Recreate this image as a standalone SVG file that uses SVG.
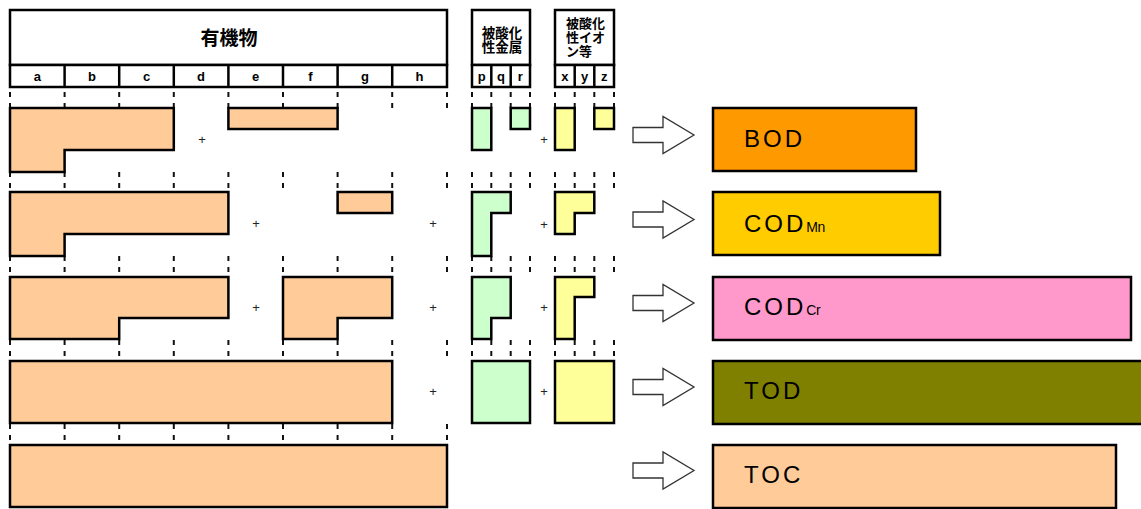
<svg xmlns="http://www.w3.org/2000/svg" width="1141" height="509" viewBox="0 0 1141 509">
<style>
.hdr{fill:#fff;stroke:#000;stroke-width:2.5}
.org{fill:#FFCC99;stroke:#000;stroke-width:2.5;stroke-linejoin:miter}
.met{fill:#CCFFCC;stroke:#000;stroke-width:2.5}
.ion{fill:#FFFF99;stroke:#000;stroke-width:2.5}
.tick{stroke:#111;stroke-width:2;stroke-dasharray:5 6}
.jp{font-family:"Liberation Sans","Noto Sans CJK JP",sans-serif;font-weight:bold;fill:#000}
.col{font-family:"Liberation Sans",sans-serif;font-weight:bold;font-size:13px;text-anchor:middle;fill:#000}
.plus{font-family:"Liberation Sans",sans-serif;font-size:13px;text-anchor:middle;fill:#222}
.arr{fill:#fff;stroke:#333;stroke-width:1.3}
.res{stroke:#000;stroke-width:2.5}
.lbl{font-family:"Liberation Sans",sans-serif;font-size:24px;letter-spacing:3px;fill:#000}
.sub{font-size:14px;letter-spacing:-0.5px}
</style>

<g id="header-organic">
  <rect class="hdr" x="10" y="10" width="437" height="55"/>
  <rect class="hdr" x="10" y="65" width="437" height="22"/>
  <g stroke="#000" stroke-width="2.5">
    <line x1="64.6" y1="65" x2="64.6" y2="87"/>
    <line x1="119.2" y1="65" x2="119.2" y2="87"/>
    <line x1="173.8" y1="65" x2="173.8" y2="87"/>
    <line x1="228.4" y1="65" x2="228.4" y2="87"/>
    <line x1="283" y1="65" x2="283" y2="87"/>
    <line x1="337.6" y1="65" x2="337.6" y2="87"/>
    <line x1="392.2" y1="65" x2="392.2" y2="87"/>
  </g>
  <text class="jp" x="229" y="45" font-size="19" text-anchor="middle">有機物</text>
  <text class="col" x="37.3" y="81">a</text>
  <text class="col" x="91.9" y="81">b</text>
  <text class="col" x="146.5" y="81">c</text>
  <text class="col" x="201.1" y="81">d</text>
  <text class="col" x="255.7" y="81">e</text>
  <text class="col" x="310.3" y="81">f</text>
  <text class="col" x="364.9" y="81">g</text>
  <text class="col" x="419.5" y="81">h</text>
</g>

<g id="header-metal">
  <rect class="hdr" x="472" y="10" width="58" height="55"/>
  <rect class="hdr" x="472" y="65" width="58" height="22"/>
  <g stroke="#000" stroke-width="2.5">
    <line x1="491.3" y1="65" x2="491.3" y2="87"/>
    <line x1="510.7" y1="65" x2="510.7" y2="87"/>
  </g>
  <text class="jp" x="502" y="38" font-size="13.5" text-anchor="middle">被酸化</text>
  <text class="jp" x="502" y="52" font-size="13.5" text-anchor="middle">性金属</text>
  <text class="col" x="481.7" y="81">p</text>
  <text class="col" x="501" y="81">q</text>
  <text class="col" x="520.3" y="81">r</text>
</g>

<g id="header-ion">
  <rect class="hdr" x="555" y="10" width="59" height="55"/>
  <rect class="hdr" x="555" y="65" width="59" height="22"/>
  <g stroke="#000" stroke-width="2.5">
    <line x1="574.7" y1="65" x2="574.7" y2="87"/>
    <line x1="594.3" y1="65" x2="594.3" y2="87"/>
  </g>
  <text class="jp" x="566" y="28" font-size="13">被酸化</text>
  <text class="jp" x="566" y="42" font-size="13">性イオ</text>
  <text class="jp" x="566" y="56" font-size="13">ン等</text>
  <text class="col" x="564.8" y="81">x</text>
  <text class="col" x="584.5" y="81">y</text>
  <text class="col" x="604.2" y="81">z</text>
</g>

<g id="ticks">
  <g id="gap1">
    <path class="tick" d="M10 92V108M64.6 92V108M119.2 92V108M173.8 92V108M228.4 92V108M283 92V108M337.6 92V108M392.2 92V108M447 92V108M472 92V108M491.3 92V108M510.7 92V108M530 92V108M555 92V108M574.7 92V108M594.3 92V108M614 92V108"/>
  </g>
  <g id="gap2">
    <path class="tick" d="M10 172V192M64.6 172V192M119.2 172V192M173.8 172V192M228.4 172V192M283 172V192M337.6 172V192M392.2 172V192M447 172V192M472 172V192M491.3 172V192M510.7 172V192M530 172V192M555 172V192M574.7 172V192M594.3 172V192M614 172V192"/>
  </g>
  <g id="gap3">
    <path class="tick" d="M10 256V277M64.6 256V277M119.2 256V277M173.8 256V277M228.4 256V277M283 256V277M337.6 256V277M392.2 256V277M447 256V277M472 256V277M491.3 256V277M510.7 256V277M530 256V277M555 256V277M574.7 256V277M594.3 256V277M614 256V277"/>
  </g>
  <g id="gap4">
    <path class="tick" d="M10 340V361M64.6 340V361M119.2 340V361M173.8 340V361M228.4 340V361M283 340V361M337.6 340V361M392.2 340V361M447 340V361M472 340V361M491.3 340V361M510.7 340V361M530 340V361M555 340V361M574.7 340V361M594.3 340V361M614 340V361"/>
  </g>
  <g id="gap5">
    <path class="tick" d="M10 424V445M64.6 424V445M119.2 424V445M173.8 424V445M228.4 424V445M283 424V445M337.6 424V445M392.2 424V445M447 424V445"/>
  </g>
</g>

<g id="row-bod">
  <path class="org" d="M10 108H173.8V150H64.6V172H10Z"/>
  <rect class="org" x="228.4" y="108" width="109.2" height="21"/>
  <text class="plus" x="202" y="144">+</text>
  <rect class="met" x="472" y="108" width="19.3" height="42"/>
  <rect class="met" x="510.7" y="108" width="19.3" height="21"/>
  <text class="plus" x="544" y="144">+</text>
  <rect class="ion" x="555" y="108" width="19.7" height="42"/>
  <rect class="ion" x="594.3" y="108" width="19.7" height="21"/>
</g>

<g id="row-codmn">
  <path class="org" d="M10 192H228.4V234H64.6V256H10Z"/>
  <rect class="org" x="337.6" y="192" width="54.6" height="21"/>
  <text class="plus" x="256" y="228">+</text>
  <text class="plus" x="433" y="228">+</text>
  <path class="met" d="M472 192H510.7V213H491.3V256H472Z"/>
  <text class="plus" x="544" y="229">+</text>
  <path class="ion" d="M555 192H594.3V213H574.7V234H555Z"/>
</g>

<g id="row-codcr">
  <path class="org" d="M10 277H228.4V318H119.2V339H10Z"/>
  <path class="org" d="M283 277H392.2V318H337.6V339H283Z"/>
  <text class="plus" x="256" y="312">+</text>
  <text class="plus" x="433" y="312">+</text>
  <path class="met" d="M472 277H510.7V318H491.3V339H472Z"/>
  <text class="plus" x="544" y="312">+</text>
  <path class="ion" d="M555 277H594.3V297H574.7V339H555Z"/>
</g>

<g id="row-tod">
  <rect class="org" x="10" y="361" width="382.2" height="62"/>
  <text class="plus" x="433" y="396">+</text>
  <rect class="met" x="472" y="361" width="58" height="62"/>
  <text class="plus" x="544" y="396">+</text>
  <rect class="ion" x="555" y="361" width="59" height="62"/>
</g>

<g id="row-toc">
  <rect class="org" x="10" y="445" width="437" height="62"/>
</g>

<g id="arrows">
  <path class="arr" d="M633 127.5H663V116.5L694 135L663 153.5V142.5H633Z"/>
  <path class="arr" d="M633 212H663V201L694 219.5L663 238V227H633Z"/>
  <path class="arr" d="M633 295.5H663V284.5L694 303L663 321.5V310.5H633Z"/>
  <path class="arr" d="M633 379.5H663V368.5L694 387L663 405.5V394.5H633Z"/>
  <path class="arr" d="M633 463H663V452L694 470.5L663 489V478H633Z"/>
</g>

<g id="bod">
  <rect class="res" x="713" y="108" width="203" height="63" fill="#FF9900"/>
  <text class="lbl" x="744" y="147">BOD</text>
</g>
<g id="codmn">
  <rect class="res" x="713" y="192" width="227" height="63" fill="#FFCC00"/>
  <text class="lbl" x="744" y="232">COD<tspan class="sub">Mn</tspan></text>
</g>
<g id="codcr">
  <rect class="res" x="713" y="277" width="418" height="63" fill="#FF99CC"/>
  <text class="lbl" x="744" y="315">COD<tspan class="sub">Cr</tspan></text>
</g>
<g id="tod">
  <rect class="res" x="713" y="361" width="440" height="63" fill="#808000"/>
  <text class="lbl" x="744" y="399">TOD</text>
</g>
<g id="toc">
  <rect class="res" x="713" y="445" width="403" height="63" fill="#FFCC99"/>
  <text class="lbl" x="744" y="483">TOC</text>
</g>
</svg>
